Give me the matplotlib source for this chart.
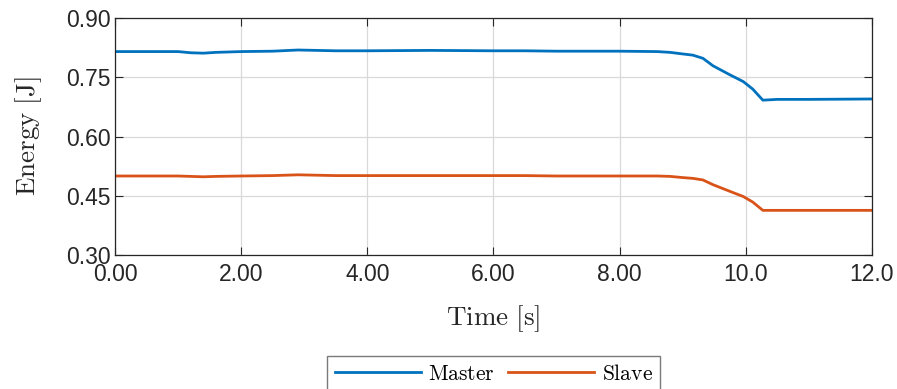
import matplotlib
matplotlib.use("Agg")
import matplotlib.pyplot as plt
from matplotlib.ticker import FormatStrFormatter

plt.rcParams['mathtext.fontset'] = 'cm'

# energy traces sampled by eye from the run log
t = [0.0, 1.0, 1.2, 1.4, 1.6, 2.0, 2.5, 2.9, 3.5, 4.0, 5.0, 6.0, 6.5,
     7.0, 8.0, 8.6, 8.8, 9.0, 9.16, 9.32, 9.48, 9.75, 9.96, 10.11, 10.27,
     10.5, 11.0, 12.0]
master = [0.815, 0.815, 0.812, 0.811, 0.813, 0.815, 0.816, 0.819, 0.817,
          0.817, 0.818, 0.817, 0.817, 0.816, 0.816, 0.815, 0.813, 0.809,
          0.806, 0.798, 0.779, 0.756, 0.739, 0.720, 0.692, 0.694, 0.694,
          0.695]
slave = [0.500, 0.500, 0.499, 0.498, 0.499, 0.500, 0.501, 0.503, 0.501,
         0.501, 0.501, 0.501, 0.501, 0.500, 0.500, 0.500, 0.499, 0.496,
         0.494, 0.490, 0.478, 0.461, 0.448, 0.434, 0.413, 0.413, 0.413,
         0.413]

x_ticks = [0, 2, 4, 6, 8, 10, 12]
x_labels = ['0.00', '2.00', '4.00', '6.00', '8.00', '10.0', '12.0']
y_ticks = [0.30, 0.45, 0.60, 0.75, 0.90]

fig = plt.figure(figsize=(8.97, 3.89), dpi=100)
ax = fig.add_axes([0.1282, 0.3445, 0.8439, 0.6092])

ax.plot(t, master, color='#0072BD', lw=2.0, label='Master')
ax.plot(t, slave, color='#D95319', lw=2.0, label='Slave')

ax.set_xlim(0, 12)
ax.set_ylim(0.30, 0.90)
ax.set_xticks(x_ticks)
ax.set_xticklabels(x_labels)
ax.set_yticks(y_ticks)
ax.yaxis.set_major_formatter(FormatStrFormatter('%.2f'))

ax.grid(True, color='#d9d9d9', lw=0.9)
ax.tick_params(direction='in', top=True, right=True, length=6, width=0.8,
               colors='#262626', labelsize=16.5)
ax.tick_params(axis='x', pad=6)
ax.tick_params(axis='y', pad=3)
for lab in ax.get_xticklabels() + ax.get_yticklabels():
    lab.set_family(['Liberation Sans', 'DejaVu Sans'])
for s in ax.spines.values():
    s.set_color('#262626')
    s.set_linewidth(0.9)

ax.set_xlabel(r'$\mathrm{Time\ [s]}$', fontsize=19.5, color='#262626', labelpad=12)
ax.set_ylabel(r'$\mathrm{Energy\ [J]}$', fontsize=19.5, color='#262626', labelpad=16)

leg = fig.legend(loc='upper center', bbox_to_anchor=(0.5505, 0.0848),
                 ncol=2, frameon=True, fancybox=False,
                 prop={'size': 15.5}, borderaxespad=0.0,
                 handlelength=4.0, handletextpad=0.35, columnspacing=0.6,
                 borderpad=0.35, edgecolor='#595959')
leg.get_frame().set_linewidth(1.0)
for txt in leg.get_texts():
    txt.set_text(r'$\mathrm{' + txt.get_text() + '}$')

fig.savefig('out.png', dpi=100)
